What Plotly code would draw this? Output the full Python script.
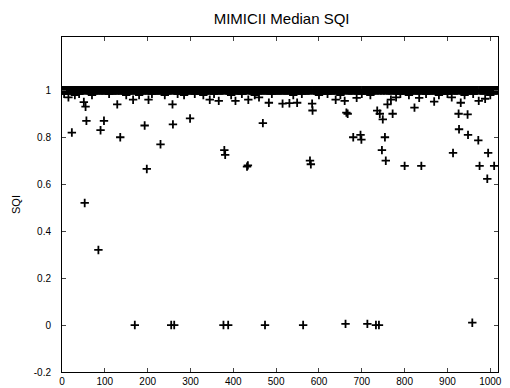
import plotly.graph_objects as go

# ---- data ----
n_records = 1017                      # record index 1..1017, nearly all at SQI = 1
baseline_sqi = 1.0

# records with SQI visibly below 1 (index, value)
outlier_idx = [15, 23, 51, 53, 55, 57, 85, 90, 98, 129, 136, 166, 170, 193, 198, 202,
               230, 255, 258, 259, 262, 299, 345, 366, 377, 379, 381, 388, 405, 432,
               434, 435, 460, 469, 474, 483, 515, 531, 549, 563, 579, 581, 584, 585,
               639, 660, 662, 664, 667, 680, 688, 697, 699, 713, 733, 736, 740, 742,
               747, 749, 754, 756, 760, 768, 772, 780, 800, 823, 834, 839, 869, 910,
               913, 926, 927, 931, 947, 948, 958, 972, 973, 975, 988, 993, 995, 1009]
outlier_sqi = [0.97, 0.82, 0.95, 0.52, 0.93, 0.87, 0.32, 0.83, 0.87, 0.94, 0.80, 0.96, 0.0,
               0.85, 0.665, 0.96, 0.77, 0.0, 0.94, 0.855, 0.0, 0.88, 0.96, 0.955, 0.0,
               0.745, 0.725, 0.0, 0.955, 0.675, 0.68, 0.96, 0.97, 0.86, 0.0, 0.947, 0.943,
               0.945, 0.947, 0.0, 0.70, 0.685, 0.943, 0.914, 0.96, 0.955, 0.005, 0.905,
               0.90, 0.80, 0.968, 0.81, 0.79, 0.005, 0.0, 0.913, 0.0, 0.90, 0.745, 0.876,
               0.80, 0.70, 0.94, 0.96, 0.90, 0.97, 0.678, 0.926, 0.968, 0.678, 0.952,
               0.97, 0.733, 0.90, 0.834, 0.947, 0.897, 0.81, 0.01, 0.787, 0.955, 0.678,
               0.964, 0.623, 0.733, 0.678]

# slight dips just under the dense band at 1
dip_idx = [5, 30, 40, 70, 110, 150, 180, 210, 240, 270, 285, 310, 330, 355, 395, 420,
           450, 490, 540, 560, 600, 620, 650, 700, 720, 790, 810, 850, 880, 900, 940,
           960, 1000]
dip_sqi = [0.985, 0.98, 0.985, 0.98, 0.985, 0.98, 0.98, 0.985, 0.98, 0.985, 0.98,
           0.985, 0.98, 0.985, 0.98, 0.985, 0.98, 0.985, 0.98, 0.985, 0.98, 0.985,
           0.98, 0.985, 0.98, 0.985, 0.98, 0.985, 0.98, 0.985, 0.98, 0.985, 0.98]

x_ticks = [0, 100, 200, 300, 400, 500, 600, 700, 800, 900, 1000]
y_ticks = [-0.2, 0, 0.2, 0.4, 0.6, 0.8, 1]
y_tick_text = ["-0.2", "0", "0.2", "0.4", "0.6", "0.8", "1"]

# ---- assemble series ----
sqi = {i: baseline_sqi for i in range(1, n_records + 1)}
for i, v in zip(dip_idx, dip_sqi):
    sqi[i] = v
for i, v in zip(outlier_idx, outlier_sqi):
    sqi[i] = v
xs = list(sqi.keys())
ys = list(sqi.values())

fig = go.Figure()
fig.add_trace(go.Scatter(
    x=xs, y=ys, mode="markers",
    marker=dict(symbol="cross-thin", size=6, color="black",
                line=dict(color="black", width=1.8)),
    showlegend=False, hoverinfo="x+y"))

font_family = "Liberation Sans, Arial, sans-serif"
# page body adds an 8px margin, so the figure is narrower than the window
fig.update_layout(
    width=502, height=387,
    margin=dict(l=51, r=8, t=29, b=16),
    paper_bgcolor="white", plot_bgcolor="white",
    font=dict(family=font_family, size=10, color="black"),
    title=dict(text="MIMICII Median SQI", x=0.545, xanchor="center",
               y=0.971, yanchor="middle",
               font=dict(family=font_family, size=15, color="black")),
)
fig.update_xaxes(range=[0, 1018], tickvals=x_ticks, ticks="inside", ticklen=4,
                 ticklabeloverflow="allow",
                 showline=True, linecolor="black", linewidth=1, mirror="ticks",
                 showgrid=False, zeroline=False, tickfont=dict(size=10, color="black"))
fig.update_yaxes(range=[-0.2, 1.227], tickvals=y_ticks, ticktext=y_tick_text,
                 ticks="inside", ticklen=4, ticklabelstandoff=8,
                 showline=True, linecolor="black", linewidth=1, mirror="ticks",
                 showgrid=False, zeroline=False, tickfont=dict(size=10, color="black"),
                 title=dict(text="SQI", font=dict(size=11, color="black"), standoff=10))

fig.write_html("out.html")
